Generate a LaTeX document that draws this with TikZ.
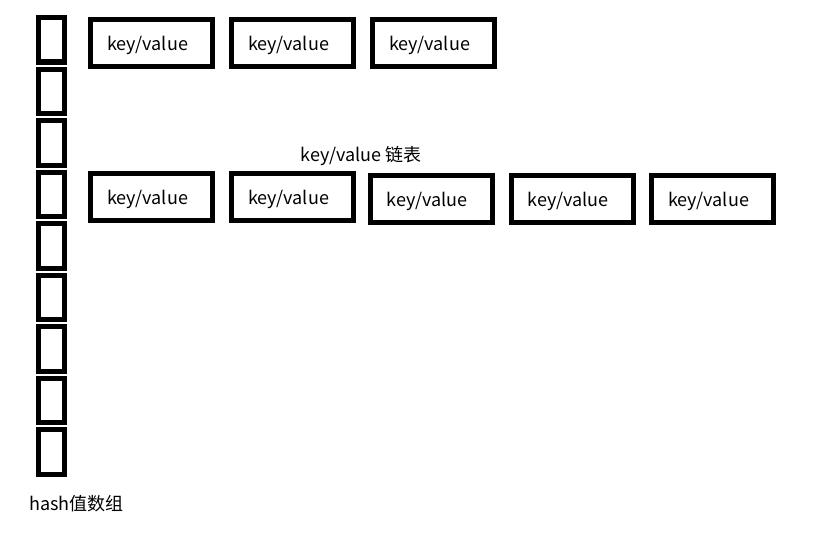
\documentclass[tikz,border=0pt]{standalone}
\usepackage{fontspec}
\setmainfont{Noto Sans CJK SC}
\newcommand{\kvtext}{\raisebox{-7.5pt}[0pt][0pt]{key/value}\hspace*{8pt}}
\begin{document}
\begin{tikzpicture}[x=1pt,y=-1pt,
  cell/.style={draw=black,line width=5pt,minimum width=26pt,minimum height=44.5pt,inner sep=0pt},
  kvbox/.style={draw=black,line width=5pt,minimum width=122pt,minimum height=47pt,inner sep=0pt,font=\fontsize{18}{20}\selectfont},
  lbl/.style={inner sep=0pt,anchor=base,font=\fontsize{18}{20}\selectfont}]
\useasboundingbox (0,0) rectangle (813,535);
\foreach \i in {0,...,8}{
  \node[cell] (c\i) at (51.5,{39.75+51.5*\i}) {};
}
\node[kvbox] (a1) at (151.5,43) {\kvtext};
\node[kvbox] (a2) at (292.5,43) {\kvtext};
\node[kvbox] (a3) at (433.5,43) {\kvtext};
\node[kvbox] (b1) at (151.5,196.5) {\kvtext};
\node[kvbox] (b2) at (292.5,196.5) {\kvtext};
\node[kvbox] (b3) at (431,198.5) {\kvtext};
\node[kvbox] (b4) at (572,198.5) {\kvtext};
\node[kvbox] (b5) at (712.5,198.5) {\kvtext};
\node[lbl] (list) at (361,161.5) {key/value 链表};
\node[lbl] (arr) at (76.5,510.5) {hash值数组};
\end{tikzpicture}
\end{document}
